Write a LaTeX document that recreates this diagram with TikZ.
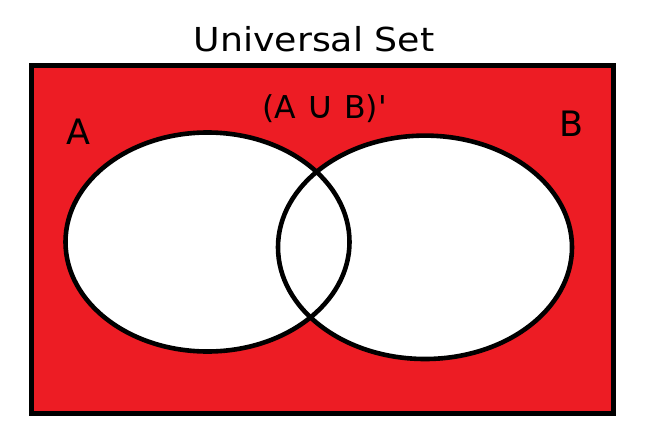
\documentclass[tikz,border=0pt]{standalone}
\usepackage{fontspec}
\setmainfont{DejaVu Sans}
\newfontfamily\widefont[FakeStretch=1.1]{DejaVu Sans}
\definecolor{setred}{RGB}{237,28,36}
\begin{document}
\begin{tikzpicture}[x=1pt,y=-1pt,
    setline/.style={line width=4.6pt},
    setlabel/.style={anchor=base, inner sep=0pt, font=\fontsize{35}{40}\selectfont}]
    \useasboundingbox (0,0) rectangle (645,434);
    %Universum
    \fill[setred] (31.5,65.5) rectangle (613.5,413.5);
    \fill[white] (207.5,242) ellipse [x radius=142, y radius=109.5];
    \fill[white] (425,247.3) ellipse [x radius=147, y radius=111.7];
    %Mengen
    \draw[setline] (207.5,242) ellipse [x radius=142, y radius=109.5];
    \draw[setline] (425,247.3) ellipse [x radius=147, y radius=111.7];
    \draw[setline] (31.5,65.5) rectangle (613.5,413.5);
    %Beschriftung
    \node[setlabel, font=\widefont\fontsize{33}{38}\selectfont] (title) at (314,51) {Universal Set};
    \node[setlabel] (labelA) at (78,144) {A};
    \node[setlabel] (labelB) at (571,136.7) {B};
    \node[setlabel, font=\fontsize{31.5}{36}\selectfont] (compl) at (324.7,118.3)
        {(A {\fontsize{38}{38}\selectfont ∪} B)\textquotesingle};
\end{tikzpicture}
\end{document}
